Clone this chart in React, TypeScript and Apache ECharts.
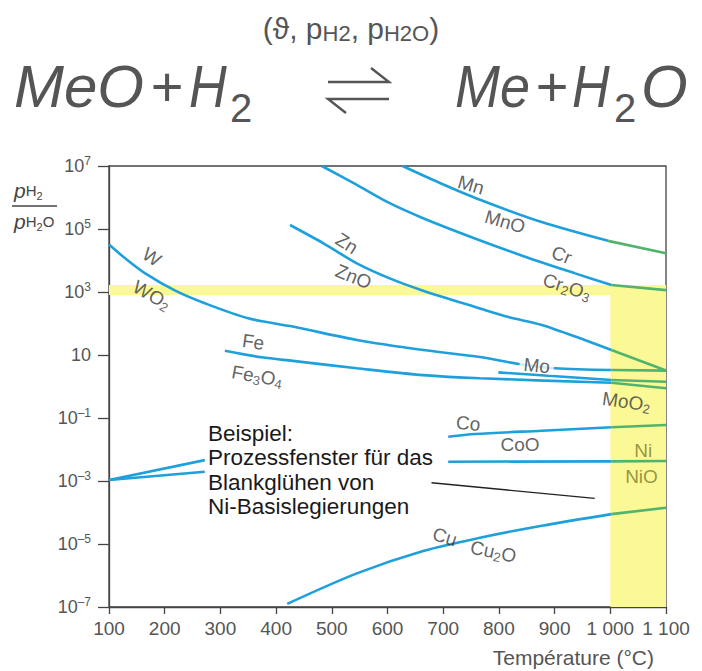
import React, { useEffect, useRef } from 'react';
import * as echarts from 'echarts';

const FONT = '"Liberation Sans", Arial, Helvetica, sans-serif';
const BLUE = '#1da0dc';
const GREEN = '#52b46c';
const YELLOW = '#fbf896';
const TXT = '#3a3a3a';
const AXIS = '#444';

// Temperature (°C) / ratio pH2/pH2O for each equilibrium line
const mnT = [627, 694, 766, 877, 996, 1100];
const mnR = [1e7, 2.9e6, 8.5e5, 1.66e5, 4.2e4, 1.7e4];
const crT = [482, 545, 604, 664, 757, 847, 937, 1002, 1100];
const crR = [1e7, 2.5e6, 6.6e5, 2.2e5, 5.0e4, 1.32e4, 3.9e3, 1.67e3, 1.15e3];
const znT = [425, 485, 545, 604, 664, 766, 817, 877, 954, 1002, 1100];
const znR = [1.34e5, 3.5e4, 8.1e3, 2.7e3, 1.1e3, 300, 160, 90, 30, 14.4, 3.2];
const wT = [100, 129, 165, 219, 272, 350, 430, 545, 664, 766, 835, 901, 1002, 1100];
const wR = [3.2e4, 1.17e4, 3.9e3, 1.1e3, 438, 146, 80, 30, 14.4, 8.6, 5.2, 3.8, 3.34, 3.2];
const feT = [308, 374, 430, 545, 664, 766, 1002, 1100];
const feR = [13.7, 8.45, 6.5, 3.8, 2.3, 1.82, 1.32, 0.88];
const moT = [799, 1002, 1100];
const moR = [2.8, 1.6, 1.42];
const coT = [709, 757, 877, 1002, 1100];
const coR = [0.0255, 0.031, 0.0395, 0.0507, 0.06];
const niT = [709, 1002, 1100];
const niR = [0.0041, 0.0042, 0.0043];
const cuT = [420, 545, 664, 766, 877, 1002, 1100];
const cuR = [1.26e-7, 1.17e-6, 6.0e-6, 1.58e-5, 3.8e-5, 8.9e-5, 1.41e-4];

// process-window annotation
const winT = [100, 272];
const winUpperR = [1.08e-3, 4.6e-3];
const winLowerR = [1.08e-3, 1.97e-3];
const pointerT = [679, 972];
const pointerR = [8.8e-4, 2.8e-4];

// yellow bands
const bandR = [800, 1670];
const windowT = [1000, 1100];
const axisT = [100, 1100];
const axisR = [1e-7, 1e7];

// curve labels
const labelText = ['W', 'WO2', 'Fe', 'Fe3O4', 'Zn', 'ZnO', 'Mn', 'MnO', 'Cr', 'Cr2O3', 'Mo', 'MoO2', 'Co', 'CoO', 'Ni', 'NiO', 'Cu', 'Cu2O'];
const labelT = [177, 177, 359, 366, 527, 539, 750, 811, 913, 922, 868, 1029, 745, 838, 1059, 1056, 703, 790];
const labelR = [1.3e4, 800, 26, 2.15, 3.5e4, 3.06e3, 2.5e6, 1.7e5, 1.5e4, 1.47e3, 4.6, 0.33, 0.068, 0.0139, 0.0096, 1.37e-3, 1.7e-5, 5.7e-6];
const labelAngle = [-33, -30, -8, -10, -32, -22, -16, -16, -22, -18, -6, -8, -5, 0, 0, 0, -17, -12];

const noteText = 'Beispiel:\nProzessfenster für das\nBlankglühen von\nNi-Basislegierungen';

const pairs = (xs: number[], ys: number[]) => xs.map((x, i) => [x, ys[i]]);

const toRich = (s: string) =>
  (s.match(/\d+|\D+/g) || []).map((p) => (/\d/.test(p) ? `{s|${p}}` : `{t|${p}}`)).join('');

const curves = [
  [mnT, mnR], [crT, crR], [znT, znR], [wT, wR], [feT, feR], [moT, moR], [coT, coR], [niT, niR], [cuT, cuR],
];

function buildOption(): any {
  const series: any[] = [];
  curves.forEach(([t, r]) => {
    const pts = pairs(t, r);
    const k = t.findIndex((x) => x >= windowT[0] - 10);
    series.push({
      type: 'line',
      data: pts.slice(0, k + 1),
      showSymbol: false,
      smooth: 0.3,
      lineStyle: { width: 2.6, color: BLUE },
      silent: true,
      z: 3,
    });
    series.push({
      type: 'line',
      data: pts.slice(k),
      showSymbol: false,
      lineStyle: { width: 2.6, color: GREEN },
      silent: true,
      z: 3,
    });
  });
  series.push(
    { type: 'line', data: pairs(winT, winUpperR), showSymbol: false, lineStyle: { width: 2.6, color: BLUE }, silent: true, z: 3 },
    { type: 'line', data: pairs(winT, winLowerR), showSymbol: false, lineStyle: { width: 2.6, color: BLUE }, silent: true, z: 3 },
    {
      type: 'line',
      data: pairs(pointerT, pointerR),
      showSymbol: false,
      lineStyle: { width: 1.4, color: '#222' },
      silent: true,
      z: 3,
      markArea: {
        silent: true,
        itemStyle: { color: YELLOW, borderWidth: 0 },
        data: [
          [{ xAxis: axisT[0], yAxis: bandR[0] }, { xAxis: axisT[1], yAxis: bandR[1] }],
          [{ xAxis: windowT[0], yAxis: axisR[0] }, { xAxis: windowT[1], yAxis: bandR[1] }],
        ],
      },
    },
    {
      type: 'scatter',
      symbolSize: 0,
      itemStyle: { color: 'transparent' },
      silent: true,
      z: 6,
      data: labelText.map((txt, i) => {
        const item: any = {
          value: [labelT[i], labelR[i]],
          label: { rotate: labelAngle[i] },
        };
        if (txt === 'Mo')
          item.label = {
            rotate: labelAngle[i],
            backgroundColor: '#fff',
            padding: [0, 4],
            rich: { t: { fontSize: 19, fontFamily: FONT, lineHeight: 15 } },
          };
        if (txt === 'Ni' || txt === 'NiO') item.label = { rotate: 0, color: '#7d7d2c' };
        return item;
      }),
      label: {
        show: true,
        position: 'inside',
        color: TXT,
        formatter: (p: any) => toRich(labelText[p.dataIndex]),
        rich: {
          t: { fontSize: 19, fontFamily: FONT, lineHeight: 22 },
          s: { fontSize: 13, fontFamily: FONT, lineHeight: 8, verticalAlign: 'bottom' },
        },
      },
    }
  );

  const bigText = (text: string, x: number, y: number, size: number, italic: boolean, align = 'left', sx = 1) => ({
    type: 'text',
    x,
    y,
    scaleX: sx,
    silent: true,
    style: {
      text,
      fill: '#555',
      fontSize: size,
      fontFamily: FONT,
      fontStyle: italic ? 'italic' : 'normal',
      align,
      verticalAlign: 'middle',
    },
  });

  const fracRich = {
    p: { fontSize: 21, fontStyle: 'italic', fontFamily: FONT, fill: AXIS, color: AXIS, lineHeight: 22 },
    h: { fontSize: 15, fontFamily: FONT, fill: AXIS, color: AXIS, lineHeight: 22 },
    s: { fontSize: 11, fontFamily: FONT, fill: AXIS, color: AXIS, lineHeight: 8, verticalAlign: 'bottom' },
  };

  const graphic: any[] = [
    {
      type: 'text',
      x: 351,
      y: 28,
      silent: true,
      style: {
        text: '{a|(ϑ, p}{s|H2}{a|, p}{s|H2O}{a|)}',
        align: 'center',
        verticalAlign: 'middle',
        rich: {
          a: { fontSize: 30, fontFamily: FONT, fill: '#555', color: '#555', lineHeight: 32 },
          s: { fontSize: 22, fontFamily: FONT, fill: '#555', color: '#555', lineHeight: 19, verticalAlign: 'bottom' },
        },
      },
    },
    bigText('MeO', 14, 86, 60, true),
    bigText('+', 167, 86, 56, false, 'center'),
    bigText('H', 189, 86, 60, true, 'left', 0.87),
    bigText('2', 230, 108, 40, false),
    bigText('Me', 455, 86, 60, true, 'left', 0.9),
    bigText('+', 552, 86, 56, false, 'center'),
    bigText('H', 572, 86, 60, true, 'left', 0.87),
    bigText('2', 614, 108, 40, false),
    bigText('O', 641, 86, 60, true),
    { type: 'polyline', silent: true, shape: { points: [[328, 82], [389, 82], [371, 68]] }, style: { stroke: '#555', lineWidth: 2.4, fill: 'none' } },
    { type: 'polyline', silent: true, shape: { points: [[389, 99], [328, 99], [346, 113]] }, style: { stroke: '#555', lineWidth: 2.4, fill: 'none' } },
    {
      type: 'text', x: 14, y: 190, silent: true,
      style: { text: '{p|p}{h|H}{s|2}', verticalAlign: 'middle', rich: fracRich },
    },
    { type: 'line', silent: true, shape: { x1: 12, y1: 206, x2: 57, y2: 206 }, style: { stroke: AXIS, lineWidth: 1.3 } },
    {
      type: 'text', x: 14, y: 221, silent: true,
      style: { text: '{p|p}{h|H}{s|2}{h|O}', verticalAlign: 'middle', rich: fracRich },
    },
    {
      type: 'text', x: 208, y: 421, silent: true, z: 10,
      style: { text: noteText, fill: '#1a1a1a', fontSize: 22.5, fontFamily: FONT, lineHeight: 24.5, align: 'left', verticalAlign: 'top' },
    },
    {
      type: 'text', x: 654, y: 657, silent: true,
      style: { text: 'Température (°C)', fill: '#555', fontSize: 21, fontFamily: FONT, align: 'right', verticalAlign: 'middle' },
    },
  ];

  return {
    animation: false,
    backgroundColor: '#fff',
    grid: { left: 109, right: 36, top: 166, bottom: 64, show: true, borderColor: AXIS, borderWidth: 1.3, backgroundColor: 'transparent' },
    xAxis: {
      type: 'value',
      min: axisT[0],
      max: axisT[1],
      interval: 100,
      axisLine: { lineStyle: { color: AXIS, width: 1.3 } },
      axisTick: { length: 7, lineStyle: { color: AXIS, width: 1.3 } },
      splitLine: { show: false },
      axisLabel: {
        margin: 12,
        color: '#555',
        fontSize: 19,
        fontFamily: FONT,
        formatter: (v: number) => (v >= 1000 ? `1 ${String(v - 1000).padStart(3, '0')}` : String(v)),
      },
    },
    yAxis: {
      type: 'log',
      logBase: 10,
      min: axisR[0],
      max: axisR[1],
      interval: 2,
      axisLine: { show: true, lineStyle: { color: AXIS, width: 1.3 } },
      axisTick: { show: true, length: 11, lineStyle: { color: AXIS, width: 1.3 } },
      splitLine: { show: false },
      minorTick: { show: false },
      axisLabel: {
        margin: 18,
        formatter: (v: number) => {
          const e = Math.round(Math.log10(v));
          if (e === 1) return '{b|10}';
          return `{b|10}{u|${e < 0 ? '–' + -e : e}}`;
        },
        rich: {
          b: { fontSize: 18, color: '#555', fontFamily: FONT, lineHeight: 22 },
          u: { fontSize: 12, color: '#555', fontFamily: FONT, lineHeight: 10, verticalAlign: 'top' },
        },
      },
    },
    series,
    graphic,
  };
}

export default function App() {
  const ref = useRef<HTMLDivElement>(null);
  useEffect(() => {
    document.body.style.margin = '0';
    const chart = echarts.init(ref.current!, null, { renderer: 'svg' });
    chart.setOption(buildOption());
    return () => chart.dispose();
  }, []);
  return <div ref={ref} style={{ width: 702, height: 671 }} />;
}
